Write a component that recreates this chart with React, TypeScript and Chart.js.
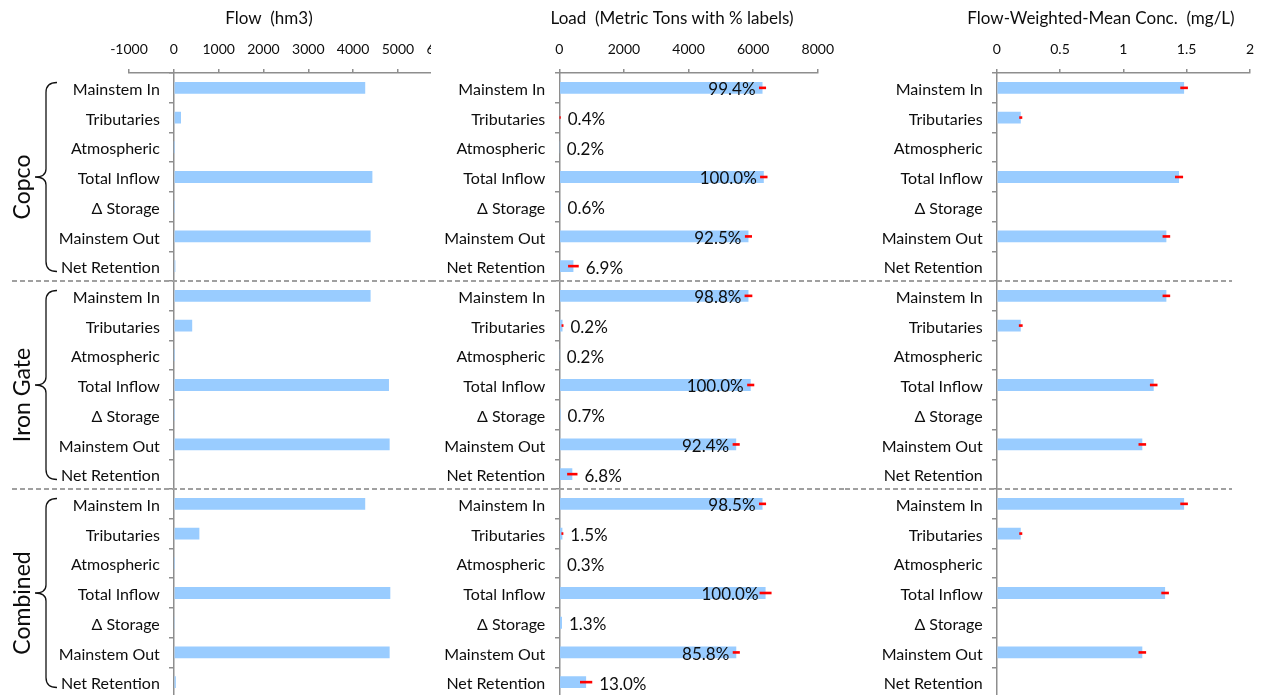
import React, { useEffect, useRef } from 'react';
import { Chart, registerables } from 'chart.js';

Chart.register(...registerables);

// ---------- data ----------
const groupNames = ['Copco', 'Iron Gate', 'Combined'];
const rowLabels = ['Mainstem In', 'Tributaries', 'Atmospheric', 'Total Inflow', 'Δ Storage', 'Mainstem Out', 'Net Retention'];

const flowCopco = [4270, 160, 1, 4430, 5, 4390, 35];
const flowIronGate = [4390, 410, 2, 4800, 5, 4815, -18];
const flowCombined = [4270, 570, 3, 4830, 10, 4815, 45];

const loadCopco = [6290, 25, 13, 6330, 38, 5855, 437];
const loadIronGate = [5855, 100, 12, 5925, 41, 5475, 403];
const loadCombined = [6290, 96, 19, 6385, 83, 5478, 830];
const loadErrCopco = [110, 20, 0, 115, 0, 110, 165];
const loadErrIronGate = [120, 30, 0, 110, 0, 110, 160];
const loadErrCombined = [110, 30, 0, 185, 0, 110, 190];
const loadPctCopco = ['99.4%', '0.4%', '0.2%', '100.0%', '0.6%', '92.5%', '6.9%'];
const loadPctIronGate = ['98.8%', '0.2%', '0.2%', '100.0%', '0.7%', '92.4%', '6.8%'];
const loadPctCombined = ['98.5%', '1.5%', '0.3%', '100.0%', '1.3%', '85.8%', '13.0%'];

const concCopco = [1.48, 0.19, null, 1.44, null, 1.34, null];
const concIronGate = [1.34, 0.19, null, 1.24, null, 1.15, null];
const concCombined = [1.48, 0.19, null, 1.33, null, 1.15, null];
const concErrCopco = [0.03, 0.012, 0, 0.032, 0, 0.03, 0];
const concErrIronGate = [0.03, 0.015, 0, 0.03, 0, 0.03, 0];
const concErrCombined = [0.03, 0.012, 0, 0.03, 0, 0.03, 0];

const flowAxis = { min: -1000, max: 6000, step: 1000 };
const loadAxis = { min: 0, max: 8000, step: 2000 };
const concAxis = { min: 0, max: 2, step: 0.5 };

const flowTitle = 'Flow  (hm3)';
const loadTitle = 'Load  (Metric Tons with % labels)';
const concTitle = 'Flow-Weighted-Mean Conc.  (mg/L)';

const categories = groupNames.flatMap(() => rowLabels);

// ---------- styles ----------
const FONT = 'Lato, "Open Sans", sans-serif';
const TEXT = '#0d0d0d';
const AXIS = '#8E8E8E';
const BAR = '#99CCFF';
const ERR = '#FF0000';
const SEP = '#A0A0A0';
const CANVAS_H = 697;
const TICK_SIZE = 14;
const CAT_SIZE = 16;
const PCT_SIZE = 17;
const TITLE_SIZE = 17;
const GROUP_SIZE = 23;

type Spec = {
  key: string;
  left: number;
  width: number;
  padL: number;
  padR: number;
  bg?: string;
  values: (number | null)[];
  errors?: number[];
  pct?: string[];
  axis: { min: number; max: number; step: number };
  title: string;
  titleX: number;
  sepFrom: number;
  sepTo: number;
  groups?: boolean;
};

const specs: Spec[] = [
  {
    key: 'flow', left: 0, width: 470, padL: 129, padR: 24,
    values: [...flowCopco, ...flowIronGate, ...flowCombined],
    axis: flowAxis, title: flowTitle, titleX: 269, sepFrom: 12, sepTo: 470, groups: true,
  },
  {
    key: 'load', left: 431, width: 414, padL: 128.3, padR: 20.7, bg: '#ffffff',
    values: [...loadCopco, ...loadIronGate, ...loadCombined],
    errors: [...loadErrCopco, ...loadErrIronGate, ...loadErrCombined],
    pct: [...loadPctCopco, ...loadPctIronGate, ...loadPctCombined],
    axis: loadAxis, title: loadTitle, titleX: 241, sepFrom: 0, sepTo: 414,
  },
  {
    key: 'conc', left: 845, width: 420, padL: 151.7, padR: 11,
    values: [...concCopco, ...concIronGate, ...concCombined],
    errors: [...concErrCopco, ...concErrIronGate, ...concErrCombined],
    axis: concAxis, title: concTitle, titleX: 256, sepFrom: 0, sepTo: 387,
  },
];

function makePlugin(spec: Spec) {
  return {
    id: 'panelDecor_' + spec.key,
    afterDatasetsDraw(chart: any) {
      const ctx = chart.ctx;
      const xs = chart.scales.x;
      const ys = chart.scales.y;
      const x0 = xs.getPixelForValue(0);
      ctx.save();

      // category labels
      ctx.font = `${CAT_SIZE}px ${FONT}`;
      ctx.fillStyle = TEXT;
      ctx.textAlign = 'right';
      ctx.textBaseline = 'middle';
      categories.forEach((lab, i) => {
        ctx.fillText(lab, x0 - 14, ys.getPixelForValue(i) + 2);
      });

      // percent labels
      if (spec.pct) {
        ctx.font = `${PCT_SIZE}px ${FONT}`;
        spec.pct.forEach((lab, i) => {
          const v = spec.values[i] ?? 0;
          const e = spec.errors ? spec.errors[i] : 0;
          const end = xs.getPixelForValue(v);
          const y = ys.getPixelForValue(i) + 2;
          if (end - x0 > 100) {
            ctx.textAlign = 'right';
            ctx.fillText(lab, end - 7, y);
          } else {
            ctx.textAlign = 'left';
            const errEnd = xs.getPixelForValue(v + e);
            ctx.fillText(lab, Math.max(end, errEnd) + 7, y);
          }
        });
      }

      // error bars
      if (spec.errors) {
        ctx.strokeStyle = ERR;
        ctx.lineWidth = 2.6;
        ctx.lineCap = 'butt';
        spec.errors.forEach((e, i) => {
          const v = spec.values[i];
          if (v == null || !e) return;
          const y = ys.getPixelForValue(i);
          ctx.beginPath();
          ctx.moveTo(xs.getPixelForValue(v - e), y);
          ctx.lineTo(xs.getPixelForValue(v + e), y);
          ctx.stroke();
        });
      }

      // dashed group separators
      ctx.strokeStyle = SEP;
      ctx.lineWidth = 2;
      ctx.setLineDash([5, 3]);
      for (let g = 1; g < groupNames.length; g++) {
        const k = g * rowLabels.length;
        const y = Math.round((ys.getPixelForValue(k - 1) + ys.getPixelForValue(k)) / 2);
        ctx.beginPath();
        ctx.moveTo(spec.sepFrom, y);
        ctx.lineTo(spec.sepTo, y);
        ctx.stroke();
      }
      ctx.setLineDash([]);

      // title
      ctx.font = `${TITLE_SIZE}px ${FONT}`;
      ctx.fillStyle = TEXT;
      ctx.textAlign = 'center';
      ctx.textBaseline = 'middle';
      ctx.fillText(spec.title, spec.titleX, 18.5);

      // group braces and labels
      if (spec.groups) {
        const half = (ys.getPixelForValue(1) - ys.getPixelForValue(0)) / 2;
        groupNames.forEach((name, g) => {
          const first = g * rowLabels.length;
          const last = first + rowLabels.length - 1;
          const top = ys.getPixelForValue(first) - half + 9.5;
          const bot = ys.getPixelForValue(last) + half - 9.5;
          const mid = (top + bot) / 2;
          const xv = 46;
          const xe = 57;
          const xc = 35;
          ctx.strokeStyle = '#111';
          ctx.lineWidth = 1.3;
          ctx.beginPath();
          ctx.moveTo(xe, top);
          ctx.quadraticCurveTo(xv, top, xv, top + 10);
          ctx.lineTo(xv, mid - 8);
          ctx.quadraticCurveTo(xv, mid, xc, mid);
          ctx.quadraticCurveTo(xv, mid, xv, mid + 8);
          ctx.lineTo(xv, bot - 10);
          ctx.quadraticCurveTo(xv, bot, xe, bot);
          ctx.stroke();

          ctx.save();
          ctx.translate(23, mid + 10);
          ctx.rotate(-Math.PI / 2);
          ctx.font = `${GROUP_SIZE}px ${FONT}`;
          ctx.fillStyle = TEXT;
          ctx.textAlign = 'center';
          ctx.textBaseline = 'middle';
          ctx.fillText(name, 0, 0);
          ctx.restore();
        });
      }

      ctx.restore();
    },
  };
}

function makeConfig(spec: Spec): any {
  return {
    type: 'bar',
    data: {
      labels: categories,
      datasets: [
        {
          data: spec.values,
          backgroundColor: BAR,
          borderWidth: 0,
          barPercentage: 0.4,
          categoryPercentage: 1,
        },
      ],
    },
    options: {
      indexAxis: 'y',
      responsive: false,
      maintainAspectRatio: false,
      animation: false,
      events: [],
      layout: { padding: { left: spec.padL, right: spec.padR, top: 0, bottom: 0 } },
      plugins: {
        legend: { display: false },
        tooltip: { enabled: false },
        title: { display: false },
      },
      scales: {
        x: {
          type: 'linear',
          position: 'top',
          min: spec.axis.min,
          max: spec.axis.max,
          ticks: {
            stepSize: spec.axis.step,
            includeBounds: false,
            padding: 11,
            color: TEXT,
            font: { family: FONT, size: TICK_SIZE },
            maxRotation: 0,
            callback: (v: number) => String(v),
          },
          grid: { drawOnChartArea: false, drawTicks: true, tickLength: 4, color: AXIS, lineWidth: 1.5 },
          border: { display: true, color: AXIS, width: 1.5 },
          afterFit: (s: any) => {
            s.height = 73;
          },
        },
        y: {
          type: 'category',
          position: { x: 0 },
          offset: true,
          ticks: { display: false },
          grid: { drawOnChartArea: false, drawTicks: true, tickLength: 4, color: AXIS, lineWidth: 1.5, offset: true },
          border: { display: true, color: AXIS, width: 1.5 },
        },
      },
    },
    plugins: [makePlugin(spec)],
  };
}

function Panel({ spec }: { spec: Spec }) {
  const ref = useRef<HTMLCanvasElement | null>(null);
  useEffect(() => {
    if (!ref.current) return;
    const chart = new Chart(ref.current, makeConfig(spec));
    return () => chart.destroy();
  }, [spec]);
  return (
    <canvas
      ref={ref}
      width={spec.width}
      height={CANVAS_H}
      style={{
        position: 'absolute',
        left: spec.left,
        top: 0,
        width: spec.width,
        height: CANVAS_H,
        background: spec.bg || 'transparent',
      }}
    />
  );
}

export default function App() {
  return (
    <div
      style={{
        position: 'absolute',
        left: 0,
        top: 0,
        width: 1265,
        height: 695,
        overflow: 'hidden',
        background: '#ffffff',
      }}
    >
      {specs.map((s) => (
        <Panel key={s.key} spec={s} />
      ))}
    </div>
  );
}
